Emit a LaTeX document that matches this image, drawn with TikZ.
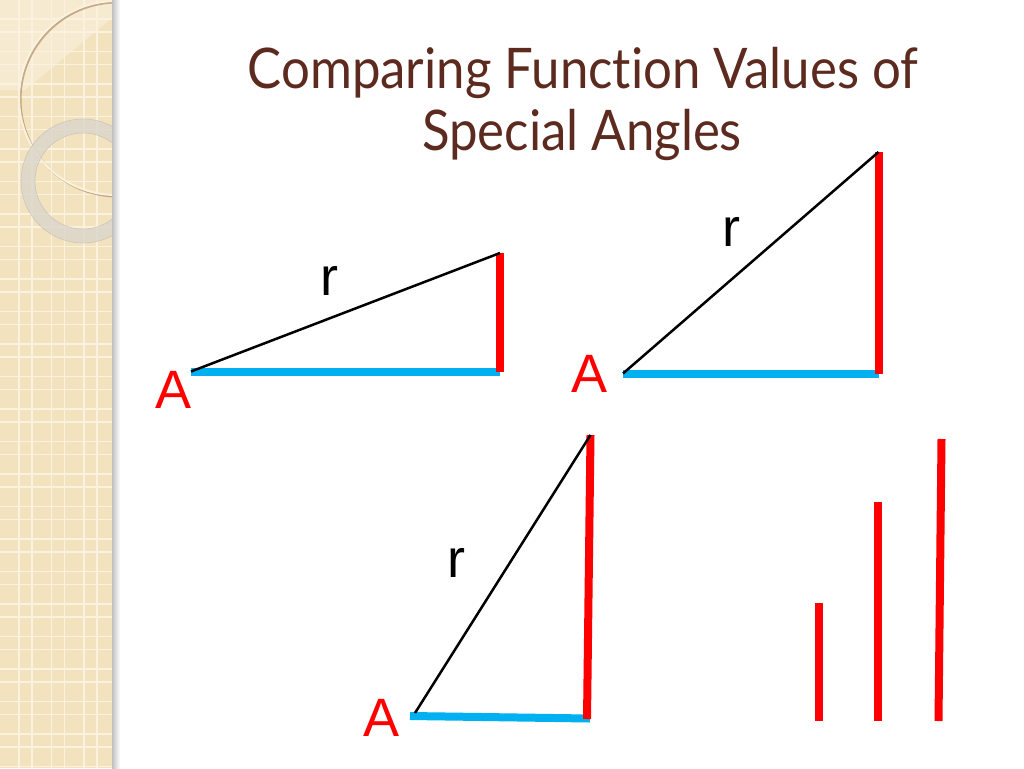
\documentclass[tikz,border=0pt]{standalone}
\usepackage{fontspec}
\setmainfont{Liberation Sans}
\newfontfamily\titlefont[Ligatures=CommonOff, FakeStretch=0.91]{Lato}
\usetikzlibrary{positioning, calc}

\definecolor{titlebrown}{RGB}{92,42,30}
\definecolor{sideblue}{RGB}{0,176,240}
\definecolor{sidered}{RGB}{255,0,0}
\definecolor{stripbeige}{RGB}{243,226,190}
\definecolor{gridcream}{RGB}{250,242,222}
\definecolor{ringgray}{RGB}{218,214,204}

\begin{document}
\begin{tikzpicture}[x=1pt, y=-1pt,
  hyp/.style={black, line width=2.5pt},
  adj/.style={sideblue, line width=8pt},
  opp/.style={sidered, line width=8pt},
  lbl/.style={inner sep=0pt, font=\fontsize{54}{54}\selectfont},
  ttl/.style={anchor=base, inner sep=0pt, text=titlebrown,
    font=\titlefont\fontsize{56}{56}\selectfont}]

  \useasboundingbox (0,0) rectangle (1024,768);

  % side strip
  \fill[stripbeige] (0,0) rectangle (112,768);
  \fill[white, opacity=.3] (0,0) -- (112,0) -- (112,18) -- (25,90) -- (0,90) -- cycle;
  \foreach \x in {19,32,51.5,64.5,84,97}
    \draw[gridcream, line width=1.3pt] (\x,0) -- (\x,768);
  \foreach \k in {0,...,23}
    \draw[gridcream, line width=1.3pt] (0,19+32.5*\k) -- (112,19+32.5*\k)
      (0,32+32.5*\k) -- (112,32+32.5*\k);
  \begin{scope}
    \clip (0,0) rectangle (112,768);
    \draw[brown!60!gray, opacity=.6, line width=2pt] (117.5,99.5) circle (97);
    \draw[gridcream, line width=2pt] (116,98) circle (97);
    \draw[ringgray, opacity=.8, line width=14pt] (83,181) circle (55);
    \draw[gray!60, opacity=.5, line width=.6pt] (83,181) circle (48) circle (62);
  \end{scope}
  \shade[left color=black!25, right color=white] (112,0) rectangle (120,768);

  % title
  \node[ttl] (title1) at (583,88) {Comparing Function Values of};
  \node[ttl] (title2) at (582,150) {Special Angles};

  % first triangle
  \coordinate (a1) at (191,371.5);
  \coordinate (b1) at (500,371.5);
  \coordinate (c1) at (500,253);
  \draw[adj] (a1) -- (b1);
  \draw[opp] (b1) -- (c1);
  \draw[hyp] (a1) -- (c1);
  \node[lbl] (r1) at (329,281) {r};
  \node[lbl, text=sidered] (A1) at (174,390) {A};

  % second triangle
  \coordinate (a2) at (623,373.5);
  \coordinate (b2) at (878.5,373.5);
  \coordinate (c2) at (878.5,152);
  \draw[adj] (a2) -- (b2);
  \draw[opp] (b2) -- (c2);
  \draw[hyp] (a2) -- (c2);
  \node[lbl] (r2) at (731,232) {r};
  \node[lbl, text=sidered] (A2) at (589,374) {A};

  % third triangle
  \coordinate (a3) at (410,716);
  \coordinate (b3) at (590,718.5);
  \coordinate (c3) at (590.5,435);
  \coordinate (d3) at (587,719);
  \coordinate (e3) at (415,713);
  \draw[adj] (a3) -- (b3);
  \draw[opp] (d3) -- (c3);
  \draw[hyp] (e3) -- (c3);
  \node[lbl] (r3) at (456,563) {r};
  \node[lbl, text=sidered] (A3) at (382,718) {A};

  % bars
  \coordinate (bar1) at (819,603);
  \coordinate (bar2) at (878,502);
  \coordinate (bar3) at (941.5,439);
  \draw[opp] (bar1) -- (bar1 |- 0,721);
  \draw[opp] (bar2) -- (bar2 |- 0,721);
  \draw[opp] (bar3) -- (938.5,721);
\end{tikzpicture}
\end{document}
